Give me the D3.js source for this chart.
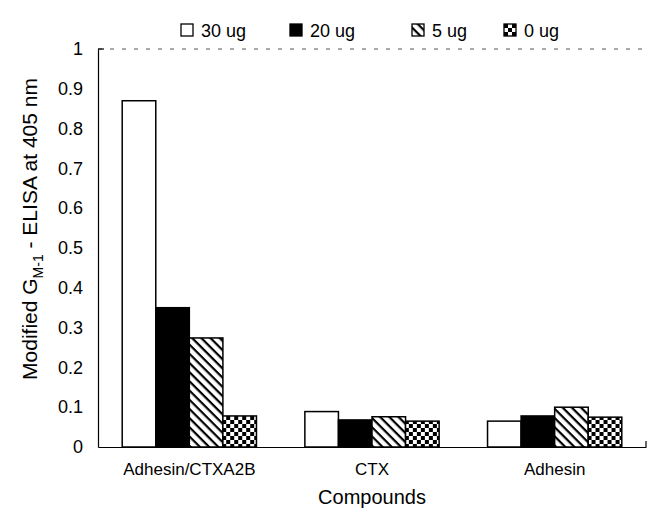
<!DOCTYPE html>
<html>
<head>
	<title>index</title>
	<meta charset="utf-8">
	<script src="https://d3js.org/d3.v7.min.js" charset="utf-8"></script>
	<style>
		body { margin:0; background:#fff; }
		svg { display:block; font-family: "Liberation Sans", Arial, sans-serif; }
	</style>
</head>
<body>
<script>

	var compounds = ["Adhesin/CTXA2B", "CTX", "Adhesin"];
	var doses = ["30 ug", "20 ug", "5 ug", "0 ug"];
	var dose30 = [0.87, 0.089, 0.065];
	var dose20 = [0.35, 0.068, 0.078];
	var dose5 = [0.274, 0.076, 0.10];
	var dose0 = [0.078, 0.065, 0.075];
	var yTicks = [0, 0.1, 0.2, 0.3, 0.4, 0.5, 0.6, 0.7, 0.8, 0.9, 1];

	var series = [dose30, dose20, dose5, dose0];
	var fills = ["#fff", "#000", "url(#hatch)", "url(#checker)"];

	var svg = d3.select("body").append("svg").attr("width",656).attr("height",509);

	var defs = svg.append("defs");
	var hatch = defs.append("pattern").attr("id","hatch")
		.attr("patternUnits","userSpaceOnUse").attr("width",6.5).attr("height",6.5)
		.attr("patternTransform","rotate(45)");
	hatch.append("rect").attr("width",6.5).attr("height",6.5).attr("fill","#fff");
	hatch.append("line").attr("x1",0).attr("y1",0).attr("x2",6.5).attr("y2",0)
		.attr("stroke","#000").attr("stroke-width",4.4);

	var checker = defs.append("pattern").attr("id","checker")
		.attr("patternUnits","userSpaceOnUse").attr("width",8).attr("height",8);
	checker.append("rect").attr("width",8).attr("height",8).attr("fill","#fff");
	checker.append("rect").attr("width",4).attr("height",4).attr("fill","#000");
	checker.append("rect").attr("x",4).attr("y",4).attr("width",4).attr("height",4).attr("fill","#000");

	var x0 = d3.scaleBand().domain(compounds).range([98,646])
		.paddingInner(0.265).paddingOuter(0.1325);
	var x1 = d3.scaleBand().domain(doses).range([0, x0.bandwidth()]);
	var y = d3.scaleLinear().domain([0,1]).range([447,49]);

	// top frame, faint dashed
	svg.append("line").attr("x1",98).attr("x2",646).attr("y1",y(1)).attr("y2",y(1))
		.attr("stroke","#555").attr("stroke-width",1).attr("stroke-dasharray","4,8");

	// bars
	compounds.forEach(function(c, i) {
		var g = svg.append("g").attr("transform","translate(" + x0(c) + ",0)");
		g.selectAll("rect").data(doses).enter().append("rect")
			.attr("x", function(d) { return x1(d); })
			.attr("y", function(d, j) { return y(series[j][i]); })
			.attr("width", x1.bandwidth())
			.attr("height", function(d, j) { return y(0) - y(series[j][i]); })
			.attr("fill", function(d, j) { return fills[j]; })
			.attr("stroke","#000").attr("stroke-width",1.5);
	});

	// y axis
	var yAxis = svg.append("g").attr("transform","translate(98,0)")
		.call(d3.axisLeft(y).tickValues(yTicks).tickSize(0).tickPadding(15)
			.tickFormat(function(d) { return d; }));
	yAxis.select(".domain").attr("stroke","#000").attr("stroke-width",1.2);
	yAxis.selectAll("text").attr("font-size",18).attr("fill","#000")
		.attr("font-family","Liberation Sans, Arial, sans-serif");
	svg.append("line").attr("x1",98).attr("x2",104).attr("y1",y(1)).attr("y2",y(1))
		.attr("stroke","#000").attr("stroke-width",1.2);

	// x axis
	var xAxis = svg.append("g").attr("transform","translate(0,447)")
		.call(d3.axisBottom(x0).tickSize(0).tickPadding(16));
	xAxis.select(".domain").attr("stroke","#000").attr("stroke-width",1.2);
	xAxis.selectAll("text").attr("font-size",17).attr("fill","#000")
		.attr("font-family","Liberation Sans, Arial, sans-serif");
	svg.append("line").attr("x1",646).attr("x2",646).attr("y1",447).attr("y2",441)
		.attr("stroke","#000").attr("stroke-width",1.2);

	svg.append("text").attr("x",372).attr("y",504).attr("text-anchor","middle")
		.attr("font-size",20).text("Compounds");

	// y title with subscript
	var yt = svg.append("text").attr("transform","translate(37,229) rotate(-90)")
		.attr("text-anchor","middle").attr("font-size",21);
	yt.append("tspan").text("Modified G");
	yt.append("tspan").attr("font-size",14).attr("dy",6).text("M-1");
	yt.append("tspan").attr("dy",-6).text(" - ELISA at 405 nm");

	// legend
	var legendX = [181, 290, 412, 504];
	var leg = svg.append("g");
	doses.forEach(function(d, j) {
		leg.append("rect").attr("x",legendX[j]).attr("y",24).attr("width",12).attr("height",12)
			.attr("fill",fills[j]).attr("stroke","#000").attr("stroke-width",1.3);
		leg.append("text").attr("x",legendX[j] + 20).attr("y",37)
			.attr("font-size",18).text(d);
	});

</script>
</body>
</html>
